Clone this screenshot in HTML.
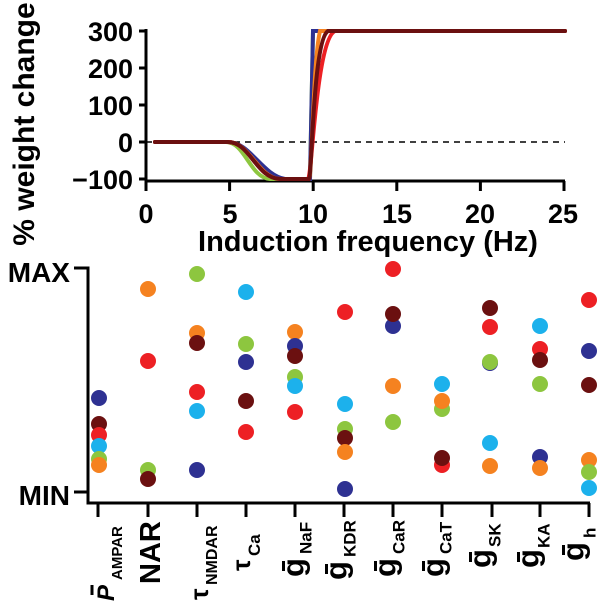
<!DOCTYPE html>
<html><head><meta charset="utf-8"><style>
html,body{margin:0;padding:0;background:#fff}
svg{display:block}
text{font-family:"Liberation Sans",Arial,sans-serif;font-weight:bold;fill:#000}
</style></head><body>
<svg width="606" height="606" viewBox="0 0 606 606" xmlns="http://www.w3.org/2000/svg">
<!-- top plot -->
<g stroke="#000" stroke-width="3" fill="none">
<path d="M146,29 V181 H565"/>
<path d="M139,31 H146 M139,68 H146 M139,105 H146 M139,142 H146 M139,179 H146"/>
<path d="M146,181 V191 M229.6,181 V191 M313.2,181 V191 M396.8,181 V191 M480.4,181 V191 M564,181 V191"/>
</g>
<line x1="146" y1="142" x2="565" y2="142" stroke="#000" stroke-width="1.5" stroke-dasharray="6,5"/>
<g font-size="27" text-anchor="end">
<text x="133" y="41">300</text><text x="133" y="78">200</text><text x="133" y="115">100</text><text x="133" y="152">0</text><text x="133" y="189">−100</text>
</g>
<g font-size="27" text-anchor="middle">
<text x="146" y="223">0</text><text x="230" y="223">5</text><text x="313" y="223">10</text><text x="397" y="223">15</text><text x="480" y="223">20</text><text x="563" y="223">25</text>
</g>
<text x="368" y="251" font-size="29" text-anchor="middle">Induction frequency (Hz)</text>
<text transform="translate(34,124) rotate(-90)" font-size="30" text-anchor="middle">% weight change</text>
<g fill="none" stroke-width="4" stroke-linecap="round">
<path stroke="#8dc63f" d="M155,142 H226 C245,142 250,178 270,179 H310 L313,31 H565"/>
<path stroke="#2e3192" d="M155,142 H228 C250,142 262,175 285,179 H310 L313,31 H565"/>
<path stroke="#f58220" d="M155,142 H228 C250,142 258,178 280,179 H309 C312,178 313,60 320,31 H565"/>
<path stroke="#ed2024" d="M155,142 H228 C250,142 256,178 280,179 H308 C312,178 316,40 335,31 H565"/>
<path stroke="#6b1010" d="M155,142 H228 C250,142 256,178 280,179 H309 C312,175 313,40 328,31 H565"/>
</g>
<!-- bottom plot -->
<g stroke="#000" stroke-width="3" fill="none">
<path d="M74,268 H88 V503 H590"/>
<path d="M74,492 H88"/>
<path d="M98,503 V517 M148,503 V517 M197,503 V517 M246,503 V517 M295,503 V517 M344,503 V517 M393,503 V517 M442,503 V517 M492,503 V517 M540,503 V517 M589,503 V517"/>
</g>
<text x="70" y="282" font-size="28" text-anchor="end">MAX</text>
<text x="70" y="505" font-size="28" text-anchor="end">MIN</text>
<g>
<circle cx="99" cy="398" r="8" fill="#2e3192"/><circle cx="99" cy="424" r="8" fill="#6b1010"/><circle cx="99" cy="435" r="8" fill="#ed2024"/><circle cx="99" cy="446" r="8" fill="#1cb1ec"/><circle cx="99" cy="459" r="8" fill="#8dc63f"/><circle cx="99" cy="465" r="8" fill="#f58220"/>
<circle cx="148" cy="289" r="8" fill="#f58220"/><circle cx="148" cy="361" r="8" fill="#ed2024"/><circle cx="148" cy="470" r="8" fill="#8dc63f"/><circle cx="148" cy="479" r="8" fill="#6b1010"/>
<circle cx="197" cy="274" r="8" fill="#8dc63f"/><circle cx="197" cy="333" r="8" fill="#f58220"/><circle cx="197" cy="343" r="8" fill="#6b1010"/><circle cx="197" cy="392" r="8" fill="#ed2024"/><circle cx="197" cy="411" r="8" fill="#1cb1ec"/><circle cx="197" cy="470" r="8" fill="#2e3192"/>
<circle cx="246" cy="292" r="8" fill="#1cb1ec"/><circle cx="246" cy="344" r="8" fill="#8dc63f"/><circle cx="246" cy="362" r="8" fill="#2e3192"/><circle cx="246" cy="401" r="8" fill="#6b1010"/><circle cx="246" cy="432" r="8" fill="#ed2024"/>
<circle cx="295" cy="332" r="8" fill="#f58220"/><circle cx="295" cy="346" r="8" fill="#2e3192"/><circle cx="295" cy="356" r="8" fill="#6b1010"/><circle cx="295" cy="377" r="8" fill="#8dc63f"/><circle cx="295" cy="386" r="8" fill="#1cb1ec"/><circle cx="295" cy="412" r="8" fill="#ed2024"/>
<circle cx="345" cy="312" r="8" fill="#ed2024"/><circle cx="345" cy="404" r="8" fill="#1cb1ec"/><circle cx="345" cy="429" r="8" fill="#8dc63f"/><circle cx="345" cy="438" r="8" fill="#6b1010"/><circle cx="345" cy="452" r="8" fill="#f58220"/><circle cx="345" cy="489" r="8" fill="#2e3192"/>
<circle cx="393" cy="269" r="8" fill="#ed2024"/><circle cx="393" cy="326" r="8" fill="#2e3192"/><circle cx="393" cy="314" r="8" fill="#6b1010"/><circle cx="393" cy="386" r="8" fill="#f58220"/><circle cx="393" cy="422" r="8" fill="#8dc63f"/>
<circle cx="442" cy="384" r="8" fill="#1cb1ec"/><circle cx="442" cy="409" r="8" fill="#8dc63f"/><circle cx="442" cy="401" r="8" fill="#f58220"/><circle cx="442" cy="465" r="8" fill="#ed2024"/><circle cx="442" cy="458" r="8" fill="#6b1010"/>
<circle cx="490" cy="308" r="8" fill="#6b1010"/><circle cx="490" cy="327" r="8" fill="#ed2024"/><circle cx="490" cy="363" r="8" fill="#2e3192"/><circle cx="490" cy="362" r="8" fill="#8dc63f"/><circle cx="490" cy="443" r="8" fill="#1cb1ec"/><circle cx="490" cy="466" r="8" fill="#f58220"/>
<circle cx="540" cy="326" r="8" fill="#1cb1ec"/><circle cx="540" cy="349" r="8" fill="#ed2024"/><circle cx="540" cy="360" r="8" fill="#6b1010"/><circle cx="540" cy="384" r="8" fill="#8dc63f"/><circle cx="540" cy="457" r="8" fill="#2e3192"/><circle cx="540" cy="468" r="8" fill="#f58220"/>
<circle cx="589" cy="300" r="8" fill="#ed2024"/><circle cx="589" cy="351" r="8" fill="#2e3192"/><circle cx="589" cy="385" r="8" fill="#6b1010"/><circle cx="589" cy="460" r="8" fill="#f58220"/><circle cx="589" cy="472" r="8" fill="#8dc63f"/><circle cx="589" cy="488" r="8" fill="#1cb1ec"/>
</g>
<!-- x labels -->
<g transform="translate(114,601) rotate(-90)"><text x="0" y="0" font-size="24" font-style="italic">P</text><line x1="6" y1="-22" x2="16" y2="-22" stroke="#000" stroke-width="3"/><text x="21" y="8" font-size="15">AMPAR</text></g>
<g transform="translate(160,584) rotate(-90)"><text x="0" y="0" font-size="29">NAR</text></g>
<g transform="translate(208,600) rotate(-90)"><text x="0" y="0" font-size="26" font-weight="normal">τ</text><text x="15" y="9" font-size="16">NMDAR</text></g>
<g transform="translate(250,571) rotate(-90)"><text x="0" y="0" font-size="26" font-weight="normal">τ</text><text x="15" y="10" font-size="17">Ca</text></g>
<g font-size="31">
<g transform="translate(303.5,577) rotate(-90)"><text x="0" y="0">g</text><line x1="6" y1="-20" x2="16" y2="-20" stroke="#000" stroke-width="3"/><text x="23" y="8" font-size="17">NaF</text></g>
<g transform="translate(346.5,580) rotate(-90)"><text x="0" y="0">g</text><line x1="6" y1="-20" x2="16" y2="-20" stroke="#000" stroke-width="3"/><text x="23" y="9" font-size="17">KDR</text></g>
<g transform="translate(395.5,577) rotate(-90)"><text x="0" y="0">g</text><line x1="6" y1="-20" x2="16" y2="-20" stroke="#000" stroke-width="3"/><text x="23" y="9" font-size="17">CaR</text></g>
<g transform="translate(443.5,577) rotate(-90)"><text x="0" y="0">g</text><line x1="6" y1="-20" x2="16" y2="-20" stroke="#000" stroke-width="3"/><text x="23" y="8" font-size="17">CaT</text></g>
<g transform="translate(490.5,568) rotate(-90)"><text x="0" y="0">g</text><line x1="6" y1="-20" x2="16" y2="-20" stroke="#000" stroke-width="3"/><text x="21" y="10" font-size="17">SK</text></g>
<g transform="translate(538.5,568) rotate(-90)"><text x="0" y="0">g</text><line x1="6" y1="-20" x2="16" y2="-20" stroke="#000" stroke-width="3"/><text x="20" y="11" font-size="17">KA</text></g>
<g transform="translate(583.5,561) rotate(-90)"><text x="0" y="0">g</text><line x1="6" y1="-20" x2="16" y2="-20" stroke="#000" stroke-width="3"/><text x="23" y="12" font-size="17">h</text></g>
</g>
</svg>
</body></html>
